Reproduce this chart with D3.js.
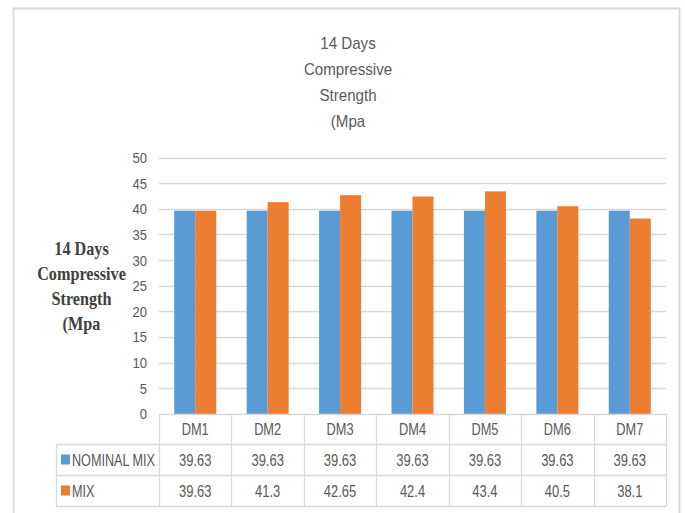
<!DOCTYPE html>
<html>
<head>
<meta charset="utf-8">
<script src="https://cdn.jsdelivr.net/npm/d3@7"></script>
<style>
  html, body { margin: 0; padding: 0; background: #fff; }
  svg { display: block; }
</style>
</head>
<body>
<svg id="chart" width="685" height="513"></svg>
<script>
// Data
const categories = ["DM1", "DM2", "DM3", "DM4", "DM5", "DM6", "DM7"];
const seriesNames = ["NOMINAL MIX", "MIX"];
const nominalMix = [39.63, 39.63, 39.63, 39.63, 39.63, 39.63, 39.63];
const mix = [39.63, 41.3, 42.65, 42.4, 43.4, 40.5, 38.1];
const tableLabels = [
  ["39.63", "39.63", "39.63", "39.63", "39.63", "39.63", "39.63"],
  ["39.63", "41.3", "42.65", "42.4", "43.4", "40.5", "38.1"]
];
const yTicks = [0, 5, 10, 15, 20, 25, 30, 35, 40, 45, 50];
const titleLines = ["14 Days", "Compressive", "Strength", "(Mpa"];
const axisTitleLines = ["14 Days", "Compressive", "Strength", "(Mpa"];
const colors = ["#5b9bd5", "#ed7d31"];

const series = [nominalMix, mix];

const svg = d3.select("#chart");
const textGray = "#595959";
const lineGray = "#d9d9d9";
const sansFont = "'Liberation Sans', Arial, sans-serif";

// Draws a horizontally condensed text label anchored at (x, y)
function narrowText(parent, x, y, str, opts) {
  const o = Object.assign({ size: 16, sx: 0.82, anchor: "start", dy: "0.36em", fill: textGray }, opts || {});
  return parent.append("g")
    .attr("transform", `translate(${x},${y}) scale(${o.sx},1)`)
    .append("text")
    .attr("x", 0).attr("y", 0)
    .attr("dy", o.dy)
    .attr("text-anchor", o.anchor)
    .attr("font-family", sansFont)
    .attr("font-size", o.size)
    .attr("fill", o.fill)
    .text(str);
}

// Chart frame
svg.append("rect")
  .attr("x", 13.5).attr("y", 8.5)
  .attr("width", 666).attr("height", 530)
  .attr("fill", "#fff")
  .attr("stroke", "#d9d9d9").attr("stroke-width", 2);

// Plot geometry
const plot = { left: 159, right: 666, top: 157.5, bottom: 414 };

const x = d3.scaleBand()
  .domain(categories)
  .range([plot.left, plot.right])
  .paddingInner(0).paddingOuter(0);

const xInner = d3.scaleBand()
  .domain(seriesNames)
  .range([0, x.bandwidth() * 0.58]);

const y = d3.scaleLinear()
  .domain([0, 50])
  .range([plot.bottom, plot.top]);

// Gridlines
svg.append("g")
  .selectAll("line")
  .data(yTicks.filter(t => t > 0))
  .join("line")
  .attr("x1", plot.left).attr("x2", plot.right)
  .attr("y1", d => Math.round(y(d)) + 0.5)
  .attr("y2", d => Math.round(y(d)) + 0.5)
  .attr("stroke", lineGray).attr("stroke-width", 1.3);

// Y axis tick labels, placed from the axis generator's tick values
const yAxis = d3.axisLeft(y).tickValues(yTicks).tickSize(0).tickPadding(0);
const yg = svg.append("g").attr("class", "y-axis");
yAxis.tickValues().forEach(t => {
  narrowText(yg, 147, y(t), yAxis.tickFormat() ? yAxis.tickFormat()(t) : y.tickFormat()(t),
    { size: 15, sx: 0.87, anchor: "end", dy: "0.36em" });
});

// Bars
const groups = svg.append("g")
  .selectAll("g")
  .data(categories)
  .join("g")
  .attr("transform", d => `translate(${x(d) + (x.bandwidth() - xInner.range()[1]) / 2},0)`);

groups.selectAll("rect")
  .data((d, i) => series.map((s, k) => ({ name: seriesNames[k], value: s[i], k })))
  .join("rect")
  .attr("x", d => xInner(d.name))
  .attr("width", xInner.bandwidth())
  .attr("y", d => y(d.value))
  .attr("height", d => y(0) - y(d.value))
  .attr("fill", d => colors[d.k]);

// Data table under the axis
const rowEdges = [414, 444, 475, 506];
const tableLeft = 56;
const tg = svg.append("g").attr("stroke", lineGray).attr("stroke-width", 1.3);

tg.append("line")
  .attr("x1", plot.left).attr("x2", plot.right)
  .attr("y1", rowEdges[0] + 0.5).attr("y2", rowEdges[0] + 0.5);
rowEdges.slice(1).forEach(r => {
  tg.append("line")
    .attr("x1", tableLeft).attr("x2", plot.right)
    .attr("y1", r + 0.5).attr("y2", r + 0.5);
});
const bounds = categories.map(c => x(c)).concat([plot.right]);
bounds.forEach(b => {
  tg.append("line")
    .attr("x1", Math.round(b) + 0.5).attr("x2", Math.round(b) + 0.5)
    .attr("y1", rowEdges[0]).attr("y2", rowEdges[3]);
});
tg.append("line")
  .attr("x1", tableLeft + 0.5).attr("x2", tableLeft + 0.5)
  .attr("y1", rowEdges[1]).attr("y2", rowEdges[3]);

// Category labels
const catG = svg.append("g");
categories.forEach(c => {
  narrowText(catG, x(c) + x.bandwidth() / 2, (rowEdges[0] + rowEdges[1]) / 2, c,
    { size: 16, sx: 0.8, anchor: "middle", dy: "0.38em" });
});

// Value rows with legend keys
const rowsG = svg.append("g");
seriesNames.forEach((name, k) => {
  const cy = (rowEdges[k + 1] + rowEdges[k + 2]) / 2;
  rowsG.append("rect")
    .attr("x", 61).attr("y", cy - 5)
    .attr("width", 9).attr("height", 10)
    .attr("fill", colors[k]);
  narrowText(rowsG, 72, cy, name, { size: 16, sx: 0.79, anchor: "start", dy: "0.38em" });
  tableLabels[k].forEach((v, i) => {
    narrowText(rowsG, x(categories[i]) + x.bandwidth() / 2, cy, v,
      { size: 16, sx: 0.81, anchor: "middle", dy: "0.38em" });
  });
});

// Chart title
const titleG = svg.append("g");
titleLines.forEach((line, i) => {
  narrowText(titleG, 348, 48.5 + i * 26, line,
    { size: 17, sx: 0.89, anchor: "middle", dy: "0" });
});

// Vertical axis title
svg.append("g")
  .attr("transform", "translate(81.5,0) scale(0.9,1)")
  .append("text")
  .attr("text-anchor", "middle")
  .attr("font-family", "'Liberation Serif', 'Times New Roman', serif")
  .attr("font-weight", "bold")
  .attr("font-size", 18)
  .attr("fill", "#404040")
  .selectAll("tspan")
  .data(axisTitleLines)
  .join("tspan")
  .attr("x", 0)
  .attr("y", (d, i) => 255 + i * 25)
  .text(d => d);
</script>
</body>
</html>
